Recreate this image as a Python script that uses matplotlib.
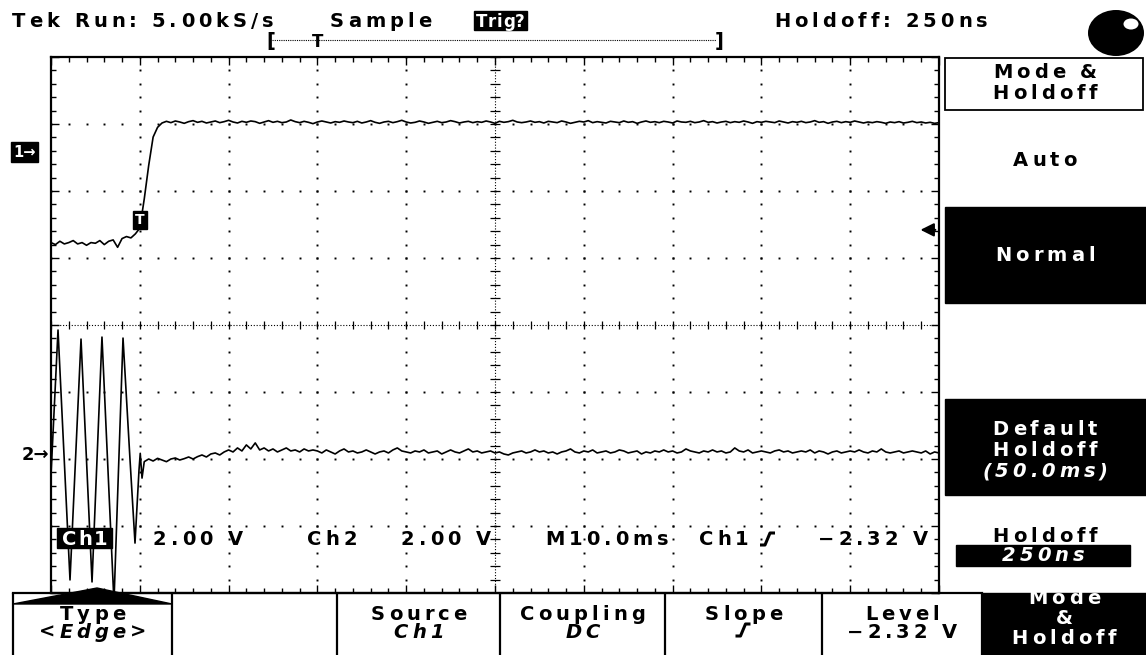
import numpy as np
import matplotlib
matplotlib.use("Agg")
import matplotlib.pyplot as plt
from matplotlib.patches import Rectangle, Polygon, Ellipse
from matplotlib.font_manager import FontProperties, findfont, get_font

# Scope settings
ms_per_div = 10.0
volts_per_div = 2.0
ch1_pos = 2.58      # ground marker 1, divisions above centre
ch2_pos = -1.94     # ground marker 2
trig_t = 10.0       # ms
trig_level = -2.32  # V, on Ch1

# Ch1: one value every 0.5 ms from 0 ms (volts)
ch1_v = [-2.70, -2.76, -2.66, -2.74, -2.70, -2.64, -2.74, -2.70, -2.78, -2.70,
         -2.72, -2.64, -2.76, -2.66, -2.62, -2.84, -2.58, -2.52, -2.56, -2.44,
         -2.27, -1.40, -0.40, 0.45, 0.74, 0.87,
         0.92, 0.88, 0.93, 0.90, 0.86, 0.91, 0.94, 0.89, 0.92, 0.87,
         0.90, 0.93, 0.88, 0.91, 0.95, 0.90, 0.87, 0.92, 0.89, 0.93,
         0.91, 0.86, 0.90, 0.94, 0.89, 0.92, 0.88, 0.90, 0.96, 0.91,
         0.88, 0.92, 0.89, 0.85, 0.90, 0.93, 0.90, 0.87, 0.91, 0.89,
         0.93, 0.90, 0.88, 0.92, 0.87, 0.90, 0.94, 0.89, 0.86, 0.90,
         0.92, 0.88, 0.91, 0.95, 0.90, 0.87, 0.89, 0.93, 0.90, 0.86,
         0.89, 0.92, 0.88, 0.90, 0.94, 0.91, 0.87, 0.90, 0.92, 0.88,
         0.91, 0.89, 0.93, 0.90, 0.86, 0.92, 0.89, 0.91, 0.95, 0.90,
         0.88, 0.90, 0.93, 0.89, 0.91, 0.87, 0.92, 0.90, 0.88, 0.93,
         0.90, 0.86, 0.89, 0.92, 0.90, 0.94, 0.88, 0.91, 0.89, 0.87,
         0.92, 0.90, 0.88, 0.93, 0.89, 0.91, 0.86, 0.90, 0.93, 0.89,
         0.91, 0.88, 0.92, 0.90, 0.87, 0.93, 0.90, 0.89, 0.92, 0.88,
         0.90, 0.94, 0.89, 0.91, 0.87, 0.90, 0.92, 0.88, 0.91, 0.89,
         0.93, 0.90, 0.86, 0.91, 0.89, 0.92, 0.90, 0.88, 0.93, 0.90,
         0.87, 0.91, 0.89, 0.92, 0.88, 0.90, 0.94, 0.89, 0.91, 0.86,
         0.90, 0.92, 0.88, 0.91, 0.89, 0.93, 0.90, 0.87, 0.90, 0.88,
         0.91, 0.89, 0.86, 0.90, 0.88, 0.91, 0.87, 0.89, 0.92, 0.88,
         0.90, 0.87, 0.89, 0.86, 0.88]

# Ch2: the burst before the trigger (peaks / troughs, ms and volts)
ch2_burst_t = [0.0, 0.79, 2.14, 3.38, 4.62, 5.74, 7.09, 8.11, 8.90, 9.46, 9.91, 10.05, 10.25, 10.5]
ch2_burst_v = [-0.60, 3.73, -3.73, 3.46, -3.79, 3.52, -4.40, 3.49, -0.15, -2.63, -0.45, 0.05, -0.69, -0.20]
# Ch2 after the burst: one value every 0.5 ms from 11 ms
ch2_tail_v = [-0.12, -0.18, -0.10, -0.15, -0.20, -0.12, -0.09, -0.15, -0.11, -0.06,
              -0.12, -0.05, 0.00, -0.06, 0.03, 0.06, 0.00, 0.09,
              0.15, 0.09, 0.21, 0.12, 0.30, 0.18, 0.36, 0.15, 0.21, 0.12,
              0.18, 0.09, 0.15, 0.21, 0.12, 0.15, 0.09, 0.18, 0.12, 0.15,
              0.12, 0.06, 0.15, 0.09, 0.03, 0.12, 0.18, 0.09, 0.12, 0.06,
              0.09, 0.15, 0.09, 0.03, 0.09, 0.12, 0.06, 0.15, 0.21, 0.12,
              0.09, 0.06, 0.12, 0.09, 0.15, 0.06, 0.09, 0.12, 0.03, 0.09,
              0.15, 0.09, 0.06, 0.12, 0.18, 0.09, 0.12, 0.06, 0.09, 0.12,
              0.06, 0.09, 0.03, 0.00, 0.06, 0.09, 0.12, 0.06, 0.09, 0.15,
              0.09, 0.12, 0.06, 0.09, 0.03, 0.09, 0.12, 0.18, 0.09, 0.06,
              0.12, 0.09, 0.15, 0.06, 0.09, 0.12, 0.06, 0.09, 0.15, 0.12,
              0.06, 0.09, 0.12, 0.03, 0.09, 0.06, 0.12, 0.09, 0.15, 0.09,
              0.12, 0.06, 0.09, 0.18, 0.12, 0.09, 0.06, 0.12, 0.09, 0.15,
              0.09, 0.12, 0.06, 0.09, 0.21, 0.12, 0.09, 0.15, 0.06, 0.09,
              0.12, 0.09, 0.06, 0.12, 0.15, 0.09, 0.12, 0.06, 0.09, 0.12,
              0.09, 0.15, 0.06, 0.12, 0.09, 0.03, 0.09, 0.12, 0.06, 0.09,
              0.12, 0.09, 0.15, 0.09, 0.06, 0.12, 0.09, 0.18, 0.09, 0.06,
              0.09, 0.12, 0.06, 0.09, 0.12, 0.09, 0.06, 0.12, 0.03, 0.09,
              0.06]

# Menu labels
bottom_menu = [("Type", "<Edge>"), ("", ""), ("Source", "Ch1"), ("Coupling", "DC"),
               ("Slope", ""), ("Level", "\u22122.32 V")]

W, H = 1146, 655
fig = plt.figure(figsize=(W / 100, H / 100), dpi=100, facecolor="white")

# ---------------- graticule + traces ----------------
gl, gr, gt, gb = 51, 939, 57, 593
ax = fig.add_axes([gl / W, 1 - gb / H, (gr - gl) / W, (gb - gt) / H])
ax.set_xlim(0, 10 * ms_per_div)
ax.set_ylim(-4, 4)
ax.set_xticks(np.arange(0, 101, 10))
ax.set_xticks(np.arange(0, 101, 2), minor=True)
ax.set_yticks(np.arange(-4, 5, 1))
ax.set_yticks(np.arange(-4, 4.01, 0.2), minor=True)
ax.tick_params(which="both", direction="in", top=True, right=True,
               labelbottom=False, labelleft=False, color="black", width=1)
ax.tick_params(which="major", length=6)
ax.tick_params(which="minor", length=3.5)
for s in ax.spines.values():
    s.set_linewidth(1.6)

# dotted division lines
minor_y = np.arange(-4, 4.01, 0.2)
minor_x = np.arange(0, 100.1, 2)
for k in range(1, 10):
    if k == 5:
        continue
    ax.plot(np.full_like(minor_y, k * 10), minor_y, "s", ms=1.4, color="black", mec="none")
for k in range(-3, 4):
    if k == 0:
        continue
    ax.plot(minor_x, np.full_like(minor_x, k), "s", ms=1.4, color="black", mec="none")
# centre cross with small ticks
ax.axhline(0, color="black", lw=0.8, ls=(0, (1, 1.6)))
ax.axvline(50, color="black", lw=0.8, ls=(0, (1, 1.6)))
ax.vlines(minor_x, -0.06, 0.06, color="black", lw=0.9)
ax.hlines(minor_y, 49.4, 50.6, color="black", lw=0.9)

ch1_t = 0.5 * np.arange(len(ch1_v))
ax.plot(ch1_t, ch1_pos + np.array(ch1_v) / volts_per_div, color="black", lw=1.2)
ch2_t = np.concatenate([ch2_burst_t, 11.0 + 0.5 * np.arange(len(ch2_tail_v))])
ch2_v = np.concatenate([ch2_burst_v, ch2_tail_v])
ax.plot(ch2_t, ch2_pos + ch2_v / volts_per_div, color="black", lw=1.2)

# trigger marker, trigger level arrow, channel ground markers
lvl = ch1_pos + trig_level / volts_per_div
ax.text(trig_t, lvl + 0.04, "T", color="white", fontsize=10, fontweight="bold",
        ha="center", va="bottom",
        bbox=dict(boxstyle="square,pad=0.15", fc="black", ec="black"))
ax.annotate("", xy=(1 - 0.024, lvl), xytext=(0.999, lvl),
            xycoords=ax.get_yaxis_transform(),
            arrowprops=dict(arrowstyle="-|>", color="black", lw=1.5, mutation_scale=20),
            annotation_clip=False)
ax.text(-0.043, ch1_pos, "1\u2192", transform=ax.get_yaxis_transform(), color="white",
        fontsize=10.5, fontweight="bold", ha="left", va="center",
        bbox=dict(boxstyle="square,pad=0.15", fc="black", ec="black"))
ax.text(-0.002, ch2_pos, "2\u2192", transform=ax.get_yaxis_transform(), color="black",
        fontsize=13, fontweight="bold", ha="right", va="center")

# ---------------- screen overlay (pixel coordinates) ----------------
ov = fig.add_axes([0, 0, 1, 1])
ov.set_xlim(0, W)
ov.set_ylim(H, 0)
ov.axis("off")


def label(x, y, s, size=14, color="black", ha="left", style="normal",
          weight="bold", track=4.0, clip=None):
    # scope font is very wide: lay out glyph by glyph with extra tracking
    prop = FontProperties(family="DejaVu Sans", size=size, style=style, weight=weight)
    font = get_font(findfont(prop))
    font.set_size(size, 100)
    adv = [font.load_char(ord(c)).linearHoriAdvance / 65536 for c in s]
    width = sum(adv) + track * (len(s) - 1)
    x0 = {"left": x, "center": x - width / 2, "right": x - width}[ha]
    for c, a in zip(s, adv):
        if c != " ":
            t = ov.text(x0, y, c, fontproperties=prop, color=color, va="baseline", ha="left")
            if clip is not None:
                t.set_clip_path(clip)
        x0 += a + track


def slope(x, y):
    ov.plot([x - 8, x - 3, x + 2, x + 7], [y + 6, y + 6, y - 6, y - 6],
            color="black", lw=2.2, solid_capstyle="butt")


# top status line
label(12, 27, "Tek Run: 5.00kS/s")
label(330, 27, "Sample")
ov.add_patch(Rectangle((474, 11), 53, 19, fc="black", ec="black"))
label(500.5, 27, "Trig?", size=12, color="white", ha="center", track=0.5)
label(774, 27, "Holdoff: 250ns")
ov.plot([272, 716], [40, 40], color="black", lw=0.8, ls=(0, (1, 1)))
ov.text(271, 41, "[", fontsize=14, fontweight="bold", ha="center", va="center")
ov.text(719, 41, "]", fontsize=14, fontweight="bold", ha="center", va="center")
ov.text(318, 42, "T", fontsize=12, fontweight="bold", ha="center", va="center")
ov.add_patch(Ellipse((1116, 33), 56, 46, fc="black"))
ov.add_patch(Ellipse((1131, 24), 15, 11, fc="white"))

# readout row inside the graticule
ov.add_patch(Rectangle((57, 528), 55, 20, fc="black", ec="black", zorder=3))
label(84.5, 545, "Ch1", color="white", ha="center", track=1.5)
label(153, 545, "2.00 V")
label(307, 545, "Ch2")
label(401, 545, "2.00 V")
label(545, 545, "M10.0ms")
label(699, 545, "Ch1")
slope(768, 539)
label(928, 545, "\u22122.32 V", ha="right")

# side menu
cx = 1045
ov.add_patch(Rectangle((945, 58), 198, 52, fc="white", ec="black", lw=1.3))
label(cx, 78, "Mode &", ha="center")
label(cx, 99, "Holdoff", ha="center")
label(cx, 166, "Auto", ha="center")
ov.add_patch(Rectangle((945, 207), 201, 96, fc="black", ec="black"))
label(cx, 261, "Normal", color="white", ha="center")
ov.add_patch(Rectangle((945, 399), 201, 96, fc="black", ec="black"))
label(cx, 435, "Default", color="white", ha="center")
label(cx, 456, "Holdoff", color="white", ha="center")
label(cx, 477, "(50.0ms)", color="white", ha="center", style="italic")
label(cx, 542, "Holdoff", ha="center")
ov.add_patch(Rectangle((956, 545), 174, 21, fc="black", ec="black"))
label(1043, 561, "250ns", color="white", ha="center", style="italic")

# bottom menu
edges = [13, 172, 337, 500, 665, 822, 982]
ov.plot([edges[0], edges[-1]], [593, 593], color="black", lw=1.6)
ov.vlines(edges, 593, H, color="black", lw=1.6)
ov.add_patch(Polygon([(13, 604), (97, 588), (172, 604)], closed=True, fc="black", ec="black"))
for (top, bot), a, b in zip(bottom_menu, edges[:-1], edges[1:]):
    mid = (a + b) / 2
    if top:
        label(mid, 620, top, ha="center")
    if bot:
        label(mid, 638, bot, ha="center", style="italic" if bot != "\u22122.32 V" else "normal")
slope((665 + 822) / 2, 630)
box = Rectangle((982, 593), W - 982, H - 593, fc="black", ec="black")
ov.add_patch(box)
label(1064, 604, "Mode", color="white", ha="center", clip=box)
label(1064, 624, "&", color="white", ha="center")
label(1064, 644, "Holdoff", color="white", ha="center")

fig.savefig("out.png", dpi=100, facecolor="white")
